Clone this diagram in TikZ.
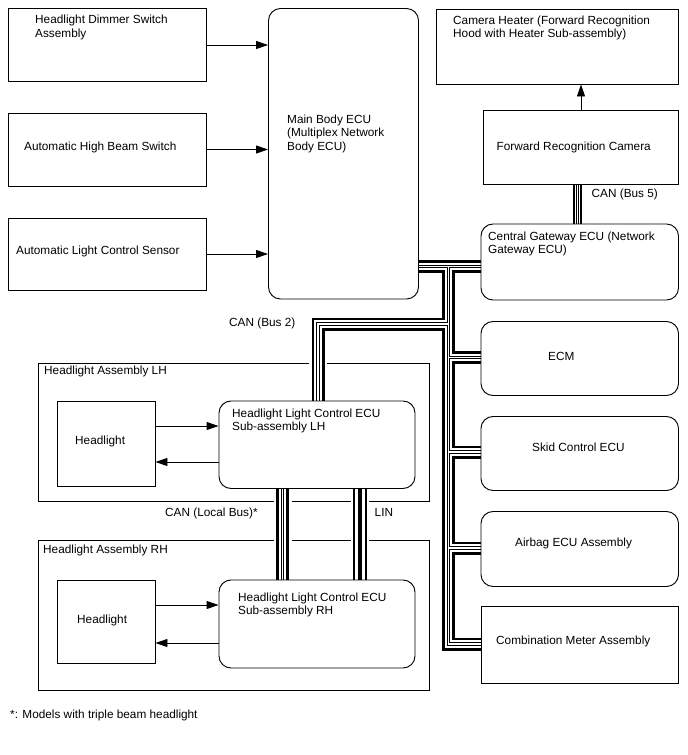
\documentclass[tikz,border=0pt]{standalone}
\usepackage{fontspec}
\setmainfont{Liberation Sans}
\usetikzlibrary{arrows.meta,fit}
\pgfdeclarelayer{back}
\pgfdeclarelayer{bus}
\pgfsetlayers{back,bus,main}
\newcommand\ml[1]{\begin{tabular}[t]{@{}l@{}}#1\end{tabular}}
\begin{document}
\begin{tikzpicture}[x=1pt,y=-1pt, font=\fontsize{11.8}{13.5}\selectfont,
  box/.style={draw, line width=0.95pt, inner sep=0pt},
  rbox/.style={box, rounded corners=12pt},
  frame/.style={draw, line width=0.75pt, inner sep=0pt},
  txt/.style={anchor=base west, inner sep=0pt},
  arr/.style={line width=0.95pt, -{Triangle[length=12pt,width=8pt]}},
]
\useasboundingbox (0,0) rectangle (688,755);

% boxes
\node[box, fit={(8.5,8.5) (206.5,81.5)}] (dimmer) {};
\node[box, fit={(8.5,113) (206.5,186)}] (hbeam) {};
\node[box, fit={(8.5,218) (206.5,290)}] (sensor) {};
\node[rbox, fit={(268.5,8.5) (418.5,299)}] (mecu) {};
\node[box, fit={(436.5,9) (678.5,84)}] (cheat) {};
\node[box, fit={(483.5,110) (678.5,184)}] (frc) {};
\node[rbox, fit={(481,224) (678.5,300)}] (gw) {};
\node[rbox, fit={(481,321.5) (678.5,395.5)}] (ecm) {};
\node[rbox, fit={(481,416.5) (678.5,490.5)}] (skid) {};
\node[rbox, fit={(481,511.5) (678.5,586.5)}] (air) {};
\node[box, fit={(481,606.5) (678.5,683)}] (cmeter) {};
\node[box, fit={(57,401) (155,486)}] (hlL) {};
\node[rbox, fit={(219,401) (415,488.5)}] (ecuL) {};
\node[box, fit={(57,580) (155,663)}] (hlR) {};
\node[rbox, fit={(219,580) (415,668)}] (ecuR) {};

% assembly frames
\begin{pgfonlayer}{back}
\node[frame, fit={(38,363.5) (429.5,501.5)}] (asmL) {};
\node[frame, fit={(38,540.5) (429.5,690)}] (asmR) {};
\end{pgfonlayer}

% bus coordinates
\coordinate (tTop) at (448.5,266.5);
\coordinate (tBot) at (448.5,644);
\coordinate (tL) at (448.5,324);
\coordinate (cL) at (318,324);
\coordinate (tE) at (448.5,357.5);
\coordinate (tS) at (448.5,452);
\coordinate (tA) at (448.5,548);
\coordinate (xcan) at (282.5,0);
\coordinate (xlin) at (360,0);
\coordinate (xb5) at (577.5,0);

\begin{pgfonlayer}{bus}
\foreach \w/\c in {18/white,13/black,7.6/white,3.8/black,1.6/white}{
  \draw[line width=\w pt, draw=\c, line join=miter]
    (mecu.east |- tTop) -- (gw.west |- tTop)
    (tTop) -- (tBot) -- (cmeter.west |- tBot)
    (tE) -- (ecm.west |- tE)
    (tS) -- (skid.west |- tS)
    (tA) -- (air.west |- tA)
    (tL) -- (cL) -- (ecuL.north -| cL)
    (ecuL.south -| xcan) -- (ecuR.north -| xcan);
}
\foreach \w/\c in {14/white,9.5/black,5/white,2.6/black,1/white}{
  \draw[line width=\w pt, draw=\c] (frc.south -| xb5) -- (gw.north -| xb5);
}
\foreach \w/\c in {18/white,13.4/black,10.4/white,4.6/black}{
  \draw[line width=\w pt, draw=\c] (ecuL.south -| xlin) -- (ecuR.north -| xlin);
}
\end{pgfonlayer}

% arrows
\coordinate (yA) at (0,426);
\coordinate (yB) at (0,462);
\coordinate (yC) at (0,605);
\coordinate (yD) at (0,643);
\draw[arr] (dimmer.east) -- (mecu.west |- dimmer.east);
\draw[arr] (hbeam.east) -- (mecu.west |- hbeam.east);
\draw[arr] (sensor.east) -- (mecu.west |- sensor.east);
\draw[arr] (frc.north) -- (cheat.south -| frc.north);
\draw[arr] (hlL.east |- yA) -- (ecuL.west |- yA);
\draw[arr] (ecuL.west |- yB) -- (hlL.east |- yB);
\draw[arr] (hlR.east |- yC) -- (ecuR.west |- yC);
\draw[arr] (ecuR.west |- yD) -- (hlR.east |- yD);

% texts
\node[txt] (t-dimmer) at (35,23.5) {\ml{Headlight Dimmer Switch\\Assembly}};
\node[txt] (t-hbeam) at (24,150) {Automatic High Beam Switch};
\node[txt] (t-sensor) at (16,254) {Automatic Light Control Sensor};
\node[txt] (t-mecu) at (287,123) {\ml{Main Body ECU\\(Multiplex Network\\Body ECU)}};
\node[txt] (t-cheat) at (453,24) {\ml{Camera Heater (Forward Recognition\\Hood with Heater Sub-assembly)}};
\node[txt] (t-frc) at (496.5,150) {Forward Recognition Camera};
\node[txt] (t-bus5) at (591.5,197) {CAN (Bus 5)};
\node[txt] (t-gw) at (488,240) {\ml{Central Gateway ECU (Network\\Gateway ECU)}};
\node[txt] (t-ecm) at (548,360) {ECM};
\node[txt] (t-skid) at (532,451) {Skid Control ECU};
\node[txt] (t-air) at (515,546) {Airbag ECU Assembly};
\node[txt] (t-cm) at (496,644) {Combination Meter Assembly};
\node[txt] (t-bus2) at (229,326) {CAN (Bus 2)};
\node[txt] (t-asmL) at (44,374) {Headlight Assembly LH};
\node[txt] (t-hlL) at (75,444) {Headlight};
\node[txt] (t-ecuL) at (232,417) {\ml{Headlight Light Control ECU\\Sub-assembly LH}};
\node[txt] (t-local) at (165,516) {CAN (Local Bus)*};
\node[txt] (t-lin) at (374.5,516) {LIN};
\node[txt] (t-asmR) at (43,553) {Headlight Assembly RH};
\node[txt] (t-hlR) at (77,623) {Headlight};
\node[txt] (t-ecuR) at (238,601) {\ml{Headlight Light Control ECU\\Sub-assembly RH}};
\node[txt] (t-note) at (10,718) {*: Models with triple beam headlight};
\end{tikzpicture}
\end{document}
